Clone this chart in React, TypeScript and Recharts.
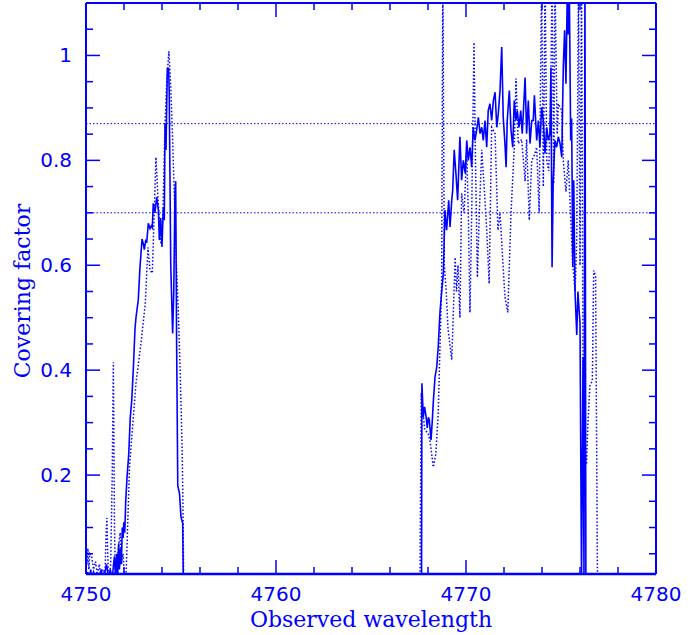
import { Line, LineChart, ReferenceLine, XAxis, YAxis } from "recharts";

const BLUE = "#0000ff";

// solid curve (first covering-factor estimate)
const solidWl = [
  4750.0, 4750.05, 4750.1, 4750.18, 4750.25, 4750.3, 4750.4, 4750.48, 4750.58, 4750.7, 4750.8, 4750.88,
  4751.0, 4751.08, 4751.18, 4751.28, 4751.38, 4751.45, 4751.5, 4751.55, 4751.62, 4751.66, 4751.72, 4751.76,
  4751.82, 4751.86, 4751.91, 4751.95, 4751.99, 4752.04, 4752.09, 4752.16, 4752.25, 4752.33, 4752.41, 4752.5,
  4752.58, 4752.63, 4752.7, 4752.75, 4752.84, 4752.95, 4753.02, 4753.07, 4753.14, 4753.2, 4753.28, 4753.37,
  4753.44, 4753.49, 4753.54, 4753.63, 4753.72, 4753.81, 4753.86, 4753.93, 4754.0, 4754.07, 4754.12, 4754.16,
  4754.21, 4754.28, 4754.35, 4754.38, 4754.46, 4754.56, 4754.62, 4754.68, 4754.72, 4754.77, 4754.83, 4754.92,
  4755.0, 4755.09, 4755.12, 4767.66, 4767.68, 4767.75, 4767.82, 4767.89, 4767.96, 4768.02, 4768.07, 4768.16,
  4768.22, 4768.28, 4768.37, 4768.46, 4768.54, 4768.63, 4768.72, 4768.81, 4768.89, 4768.98, 4769.09, 4769.16,
  4769.25, 4769.3, 4769.38, 4769.47, 4769.56, 4769.68, 4769.77, 4769.86, 4769.96, 4770.04, 4770.12, 4770.21,
  4770.3, 4770.38, 4770.47, 4770.56, 4770.65, 4770.74, 4770.83, 4770.91, 4771.0, 4771.09, 4771.17, 4771.26,
  4771.35, 4771.44, 4771.53, 4771.62, 4771.7, 4771.79, 4771.88, 4771.96, 4772.05, 4772.11, 4772.17, 4772.28,
  4772.37, 4772.46, 4772.54, 4772.63, 4772.7, 4772.79, 4772.88, 4772.96, 4773.05, 4773.11, 4773.19, 4773.28,
  4773.37, 4773.46, 4773.54, 4773.6, 4773.72, 4773.81, 4773.89, 4773.98, 4774.07, 4774.16, 4774.25, 4774.33,
  4774.42, 4774.47, 4774.53, 4774.59, 4774.68, 4774.77, 4774.86, 4774.95, 4775.04, 4775.12, 4775.19, 4775.26,
  4775.33, 4775.38, 4775.44, 4775.51, 4775.56, 4775.62, 4775.67, 4775.74, 4775.83, 4775.89, 4776.0, 4776.08,
  4776.16, 4776.21, 4776.26, 4776.31, 4780.0,
];
const solidCf = [
  0.02, 0.0, 0.015, 0.0, 0.02, 0.005, 0.015, 0.0, 0.012, 0.0, 0.02, 0.0,
  0.015, 0.03, 0.005, 0.02, 0.0, 0.03, 0.045, 0.01, 0.05, 0.0, 0.07, 0.02,
  0.06, 0.03, 0.1, 0.08, 0.11, 0.09, 0.15, 0.196, 0.24, 0.31, 0.343, 0.41,
  0.48, 0.5, 0.52, 0.533, 0.596, 0.65, 0.64, 0.63, 0.647, 0.645, 0.68, 0.67,
  0.675, 0.672, 0.718, 0.7, 0.73, 0.705, 0.648, 0.69, 0.635, 0.71, 0.686, 0.87,
  0.82, 0.975, 0.975, 0.93, 0.6, 0.47, 0.55, 0.74, 0.76, 0.45, 0.18, 0.165,
  0.12, 0.108, 0.0, 0.0, 0.375, 0.31, 0.33, 0.314, 0.29, 0.31, 0.305, 0.267,
  0.3, 0.34, 0.387, 0.406, 0.445, 0.51, 0.55, 0.585, 0.705, 0.667, 0.724, 0.673,
  0.724, 0.743, 0.82, 0.775, 0.724, 0.845, 0.762, 0.8, 0.775, 0.838, 0.8, 0.825,
  0.787, 0.863, 0.838, 0.857, 0.882, 0.851, 0.863, 0.838, 0.876, 0.825, 0.895, 0.908,
  0.876, 0.914, 0.93, 0.863, 0.889, 0.933, 1.016, 0.882, 0.832, 0.787, 0.876, 0.933,
  0.857, 0.825, 0.914, 0.876, 0.895, 0.863, 0.895, 0.851, 0.914, 0.958, 0.851, 0.914,
  0.832, 0.876, 0.876, 0.924, 0.838, 0.876, 0.825, 0.901, 0.876, 0.813, 0.863, 0.838,
  0.851, 0.977, 0.596, 0.762, 0.838, 0.825, 0.845, 0.832, 0.806, 0.977, 1.048, 0.946,
  1.12, 1.04, 1.12, 0.838, 0.88, 0.596, 0.762, 0.547, 0.467, 0.55, 0.49, 0.0,
  0.425, 0.0, 1.15, 0.0, 0.0,
];

// dotted curve (second estimate)
const dottedWl = [
  4750.0, 4750.05, 4750.1, 4750.15, 4750.2, 4750.3, 4750.4, 4750.5, 4750.6, 4750.7, 4750.8, 4750.9,
  4751.0, 4751.05, 4751.1, 4751.15, 4751.2, 4751.3, 4751.38, 4751.44, 4751.5, 4751.55, 4751.6, 4751.7,
  4751.8, 4751.86, 4751.95, 4752.03, 4752.1, 4752.29, 4752.63, 4752.89, 4753.12, 4753.26, 4753.37, 4753.49,
  4753.59, 4753.68, 4753.8, 4753.95, 4754.05, 4754.16, 4754.25, 4754.36, 4754.45, 4754.55, 4754.66, 4754.76,
  4754.87, 4754.97, 4755.06, 4755.1, 4755.14, 4767.58, 4767.64, 4767.7, 4767.83, 4768.0, 4768.1, 4768.28,
  4768.41, 4768.54, 4768.63, 4768.72, 4768.78, 4768.86, 4768.96, 4769.05, 4769.25, 4769.37, 4769.43, 4769.5,
  4769.58, 4769.68, 4769.77, 4769.9, 4770.04, 4770.12, 4770.21, 4770.3, 4770.42, 4770.5, 4770.6, 4770.7,
  4770.83, 4771.0, 4771.1, 4771.22, 4771.35, 4771.53, 4771.68, 4771.79, 4771.95, 4772.05, 4772.2, 4772.37,
  4772.54, 4772.63, 4772.75, 4772.93, 4773.11, 4773.19, 4773.33, 4773.46, 4773.6, 4773.72, 4773.85, 4773.98,
  4774.07, 4774.16, 4774.25, 4774.35, 4774.45, 4774.53, 4774.62, 4774.68, 4774.8, 4774.86, 4775.04, 4775.12,
  4775.26, 4775.38, 4775.5, 4775.62, 4775.74, 4775.83, 4775.92, 4776.0, 4776.08, 4776.16, 4776.26, 4776.34,
  4776.42, 4776.52, 4776.65, 4776.72, 4776.82, 4776.92, 4780.0,
];
const dottedCf = [
  0.05, 0.03, 0.06, 0.02, 0.05, 0.045, 0.02, 0.035, 0.01, 0.03, 0.0, 0.02,
  0.01, 0.08, 0.118, 0.04, 0.0, 0.03, 0.2, 0.415, 0.1, 0.0, 0.02, 0.06,
  0.09, 0.03, 0.05, 0.0, 0.0, 0.215, 0.375, 0.45, 0.527, 0.634, 0.59, 0.585,
  0.7, 0.806, 0.72, 0.64, 0.7, 0.87, 0.95, 1.008, 0.95, 0.85, 0.72, 0.6,
  0.5, 0.38, 0.25, 0.15, 0.0, 0.0, 0.356, 0.33, 0.286, 0.28, 0.267, 0.215,
  0.24, 0.318, 0.445, 0.57, 1.15, 0.6, 0.55, 0.48, 0.42, 0.55, 0.615, 0.55,
  0.6, 0.5, 0.737, 0.7, 0.82, 0.7, 0.51, 0.7, 1.025, 0.8, 0.577, 0.7,
  0.82, 0.724, 0.66, 0.565, 0.863, 0.851, 0.667, 0.7, 0.6, 0.54, 0.51, 0.7,
  0.825, 0.956, 0.832, 0.84, 0.76, 0.84, 0.686, 0.8, 0.81, 0.825, 0.7, 1.15,
  0.75, 1.15, 0.8, 0.78, 0.9, 1.15, 0.756, 1.15, 0.85, 0.908, 0.895, 0.8,
  0.74, 0.8, 0.7, 0.6, 0.55, 0.65, 1.15, 0.6, 1.15, 0.4, 0.25, 0.22,
  0.3, 0.37, 0.38, 0.59, 0.58, 0.0, 0.0,
];

const xTicks = [
  4750, 4752, 4754, 4756, 4758, 4760, 4762, 4764, 4766, 4768, 4770, 4772, 4774, 4776, 4778, 4780,
];
const yTicks = [
  0.05, 0.1, 0.15, 0.2, 0.25, 0.3, 0.35, 0.4, 0.45, 0.5, 0.55, 0.6, 0.65, 0.7, 0.75, 0.8, 0.85, 0.9,
  0.95, 1, 1.05,
];
const refLevels = [0.87, 0.7];

const solidData = solidWl.map((x, i) => ({ x, y: solidCf[i] }));
const dottedData = dottedWl.map((x, i) => ({ x, y: dottedCf[i] }));

const tickFont = "'DejaVu Sans', sans-serif";
const titleFont = "'DejaVu Serif', serif";

const isMajorX = (v: number) => v % 10 === 0;
const isMajorY = (v: number) => Math.abs(v * 5 - Math.round(v * 5)) < 1e-6;

function XTick({ x, y, payload, side }: any) {
  const v = payload.value;
  const len = isMajorX(v) ? 14 : 7;
  const dir = side === "top" ? 1 : -1;
  return (
    <g>
      <line x1={x} y1={y} x2={x} y2={y + dir * len} stroke={BLUE} strokeWidth={1.5} />
      {side !== "top" && isMajorX(v) ? (
        <text x={x} y={y + 27} textAnchor="middle" fill={BLUE} fontSize={20} fontFamily={tickFont}>
          {v}
        </text>
      ) : null}
    </g>
  );
}

function YTick({ x, y, payload, side }: any) {
  const v = payload.value;
  const len = isMajorY(v) ? 14 : 7;
  const dir = side === "right" ? -1 : 1;
  return (
    <g>
      <line x1={x} y1={y} x2={x + dir * len} y2={y} stroke={BLUE} strokeWidth={1.5} />
      {side !== "right" && isMajorY(v) ? (
        <text x={x - 14} y={y + 7} textAnchor="end" fill={BLUE} fontSize={20} fontFamily={tickFont}>
          {String(v)}
        </text>
      ) : null}
    </g>
  );
}

export default function App() {
  return (
    <div style={{ position: "absolute", left: 0, top: 0, width: 700, height: 635, background: "#fff" }}>
      <LineChart width={700} height={635} margin={{ top: 2, right: 43, bottom: 60, left: 85 }}>
        <XAxis
          dataKey="x"
          type="number"
          domain={[4750, 4780]}
          allowDataOverflow
          ticks={xTicks}
          interval={0}
          height={1}
          tickSize={0}
          tickMargin={0}
          tickLine={false}
          axisLine={{ stroke: BLUE, strokeWidth: 2.5 }}
          tick={(p: any) => <XTick {...p} side="bottom" />}
        />
        <XAxis
          xAxisId="top"
          orientation="top"
          dataKey="x"
          type="number"
          domain={[4750, 4780]}
          allowDataOverflow
          ticks={xTicks}
          interval={0}
          height={1}
          tickSize={0}
          tickMargin={0}
          tickLine={false}
          axisLine={{ stroke: BLUE, strokeWidth: 2 }}
          tick={(p: any) => <XTick {...p} side="top" />}
        />
        <YAxis
          type="number"
          domain={[0.0114, 1.1]}
          allowDataOverflow
          ticks={yTicks}
          interval={0}
          width={1}
          tickSize={0}
          tickMargin={0}
          tickLine={false}
          axisLine={{ stroke: BLUE, strokeWidth: 2 }}
          tick={(p: any) => <YTick {...p} side="left" />}
        />
        <YAxis
          yAxisId="right"
          orientation="right"
          type="number"
          domain={[0.0114, 1.1]}
          allowDataOverflow
          ticks={yTicks}
          interval={0}
          width={1}
          tickSize={0}
          tickMargin={0}
          tickLine={false}
          axisLine={{ stroke: BLUE, strokeWidth: 2 }}
          tick={(p: any) => <YTick {...p} side="right" />}
        />
        {refLevels.map((lvl) => (
          <ReferenceLine key={lvl} y={lvl} stroke={BLUE} strokeWidth={1} strokeDasharray="1.5 2" />
        ))}
        <Line
          data={dottedData}
          dataKey="y"
          type="linear"
          stroke={BLUE}
          strokeWidth={1.5}
          strokeDasharray="1.5 2"
          dot={false}
          activeDot={false}
          isAnimationActive={false}
        />
        <Line
          data={solidData}
          dataKey="y"
          type="linear"
          stroke={BLUE}
          strokeWidth={1.6}
          dot={false}
          activeDot={false}
          isAnimationActive={false}
        />
        <Line
          data={solidData}
          xAxisId="top"
          yAxisId="right"
          dataKey="y"
          stroke="none"
          dot={false}
          activeDot={false}
          legendType="none"
          isAnimationActive={false}
        />
      </LineChart>
      <div
        style={{
          position: "absolute",
          left: 22,
          top: 291,
          transform: "translate(-50%, -50%) rotate(-90deg)",
          color: BLUE,
          fontFamily: titleFont,
          fontSize: 22,
          whiteSpace: "nowrap",
        }}
      >
        Covering factor
      </div>
      <div
        style={{
          position: "absolute",
          left: 371,
          top: 619,
          transform: "translate(-50%, -50%)",
          color: BLUE,
          fontFamily: titleFont,
          fontSize: 22,
          whiteSpace: "nowrap",
        }}
      >
        Observed wavelength
      </div>
    </div>
  );
}
